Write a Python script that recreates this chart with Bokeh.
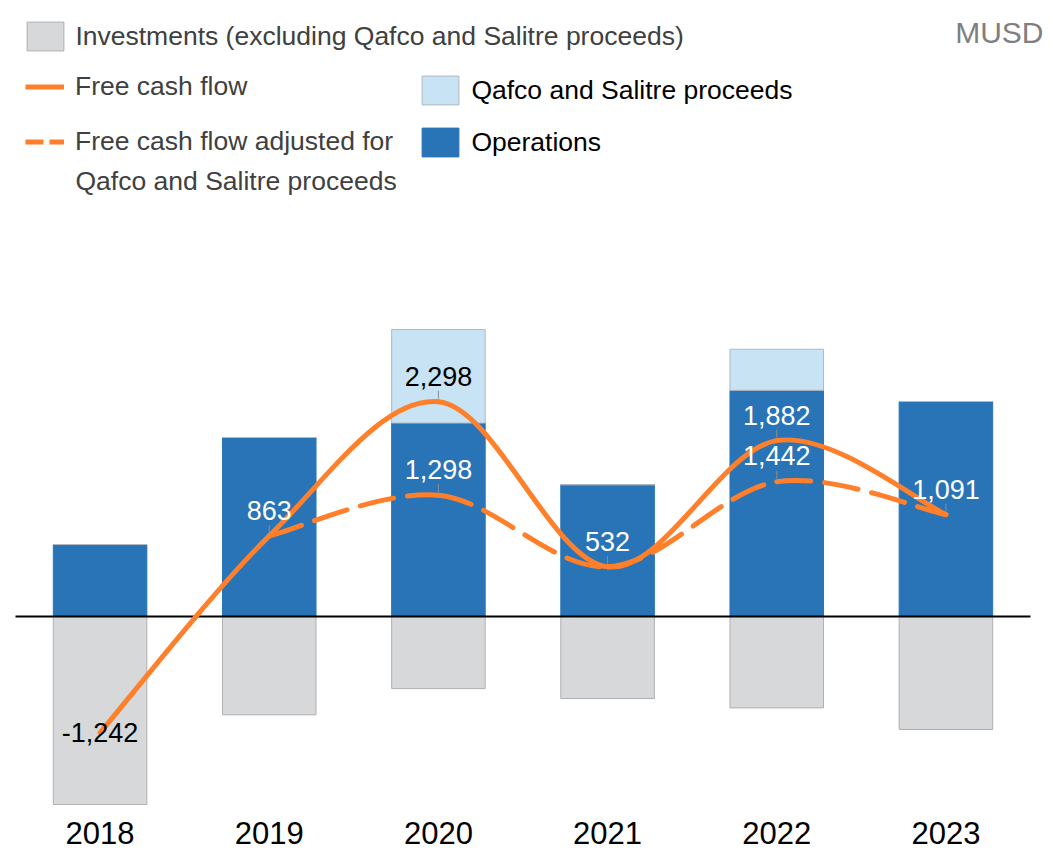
from bokeh.plotting import figure
from bokeh.models import (ColumnDataSource, FactorRange, Range1d, Legend, LegendItem,
                          Label, LabelSet)
from bokeh.core.properties import value
from bokeh.embed import file_html
from bokeh.resources import INLINE

# ---------------- data (MUSD) ----------------
years = ["2018", "2019", "2020", "2021", "2022", "2023"]
operations = [770, 1915, 2070, 1410, 2420, 2300]
proceeds = [0, 0, 1000, 0, 440, 0]
investments = [-2012, -1052, -772, -878, -978, -1209]
free_cash_flow = [-1242, 863, 2298, 532, 1882, 1091]
fcf_adjusted = [None, 863, 1298, 532, 1442, 1091]

# ---------------- style ----------------
FONT = "Liberation Sans"
ORANGE = "#FF7F2A"
DARK_BLUE = "#2874B7"
LIGHT_BLUE = "#C7E3F4"
GREY = "#D7D8DA"
CAT_PX = 169.17            # pixels per category
PAD_PX = 15                # frame padding left/right of the categories
FRAME_T = 10
FRAME_W, FRAME_H = 1045, 800
ZERO_FROM_TOP = 606
MUSD_PER_PX = 10.7
LEG_SIZE = "26.5px"

p = figure(
    x_range=FactorRange(*years, range_padding=PAD_PX / CAT_PX, range_padding_units="absolute"),
    y_range=Range1d(-(FRAME_H - ZERO_FROM_TOP) * MUSD_PER_PX, ZERO_FROM_TOP * MUSD_PER_PX),
    frame_width=FRAME_W, frame_height=FRAME_H,
    min_border_left=0, min_border_right=6, min_border_top=FRAME_T, min_border_bottom=46,
    y_axis_location=None,
    output_backend="svg", toolbar_location=None,
)
p.outline_line_color = None
p.xgrid.grid_line_color = None
p.ygrid.grid_line_color = None
p.background_fill_color = "white"
p.border_fill_color = "white"

ax = p.xaxis[0]
ax.axis_line_color = None
ax.major_tick_line_color = None
ax.minor_tick_line_color = None
ax.major_label_standoff = 5
ax.major_label_text_font = FONT
ax.major_label_text_font_size = "31px"
ax.major_label_text_color = "black"

bars = ColumnDataSource(dict(
    x=years,
    ops=operations,
    pro_bottom=operations,
    pro_top=[o + q for o, q in zip(operations, proceeds)],
    inv=investments,
    zero=[0] * len(years),
))
BW = 0.553
r_inv = p.vbar(x="x", top="zero", bottom="inv", width=BW, source=bars,
               fill_color=GREY, line_color="#B0B0B0", line_width=1)
r_ops = p.vbar(x="x", top="ops", bottom="zero", width=BW, source=bars,
               fill_color=DARK_BLUE, line_color=DARK_BLUE, line_width=1)
r_pro = p.vbar(x="x", top="pro_top", bottom="pro_bottom", width=BW, source=bars,
               fill_color=LIGHT_BLUE, line_color="#B0B8C0", line_width=1)

# zero line across the category span
p.segment(x0=[0], x1=[len(years)], y0=[0], y1=[0], line_color="black", line_width=2)

# ---------------- labels and leader ticks ----------------
lab = dict(x=[], y=[], text=[], color=[], off=[])
ticks = dict(x=[], y0=[], y1=[])
for i, yr in enumerate(years):
    v = free_cash_flow[i]
    lab["x"].append(yr); lab["y"].append(v); lab["text"].append(f"{v:,}")
    lab["color"].append("white" if 0 < v <= operations[i] else "black")
    lab["off"].append(25 if v > 0 else 0)
    if v > 0:
        ticks["x"].append(yr); ticks["y0"].append(v + 3 * MUSD_PER_PX); ticks["y1"].append(v + 11 * MUSD_PER_PX)
    a = fcf_adjusted[i]
    if a is not None and a != v:
        lab["x"].append(yr); lab["y"].append(a); lab["text"].append(f"{a:,}")
        lab["color"].append("white" if 0 < a <= operations[i] else "black")
        lab["off"].append(26)
        ticks["x"].append(yr); ticks["y0"].append(a + 3 * MUSD_PER_PX); ticks["y1"].append(a + 11 * MUSD_PER_PX)

p.segment(x0="x", x1="x", y0="y0", y1="y1", source=ColumnDataSource(ticks),
          line_color="#8C8C8C", line_width=1)


# ---------------- smoothed lines (cubic Bezier through the points) ----------------
def bezier_source(xcats, vals):
    xs = [years.index(c) + 0.5 for c in xcats]
    ys = list(vals)
    n = len(xs)
    d = dict(x0=[], y0=[], x1=[], y1=[], cx0=[], cy0=[], cx1=[], cy1=[])
    for i in range(n - 1):
        xm, ym = (xs[i - 1], ys[i - 1]) if i > 0 else (xs[i], ys[i])
        xp, yp = (xs[i + 2], ys[i + 2]) if i + 2 < n else (xs[i + 1], ys[i + 1])
        d["x0"].append(xs[i]); d["y0"].append(ys[i])
        d["x1"].append(xs[i + 1]); d["y1"].append(ys[i + 1])
        d["cx0"].append(xs[i] + (xs[i + 1] - xm) / 6)
        d["cy0"].append(ys[i] + (ys[i + 1] - ym) / 6)
        d["cx1"].append(xs[i + 1] - (xp - xs[i]) / 6)
        d["cy1"].append(ys[i + 1] - (yp - ys[i]) / 6)
    return ColumnDataSource(d)


adj_years = [y for y, a in zip(years, fcf_adjusted) if a is not None]
adj_vals = [a for a in fcf_adjusted if a is not None]

p.bezier(x0="x0", y0="y0", x1="x1", y1="y1", cx0="cx0", cy0="cy0", cx1="cx1", cy1="cy1",
         source=bezier_source(adj_years, adj_vals),
         line_color=ORANGE, line_width=5, line_dash="34 14", line_cap="round")
p.bezier(x0="x0", y0="y0", x1="x1", y1="y1", cx0="cx0", cy0="cy0", cx1="cx1", cy1="cy1",
         source=bezier_source(years, free_cash_flow),
         line_color=ORANGE, line_width=5, line_cap="round")

p.add_layout(LabelSet(x="x", y="y", text="text", source=ColumnDataSource(lab),
                      y_offset="off", text_align="center", text_baseline="middle",
                      text_font=value(FONT), text_font_size=value("27px"), text_color="color"))

# ---------------- legends ----------------
# one-point lines draw nothing in the plot, only their legend swatches
l_fcf = p.line(x=[years[0]], y=[free_cash_flow[0]], line_color=ORANGE, line_width=5)
l_adj = p.line(x=[adj_years[0]], y=[adj_vals[0]], line_color=ORANGE, line_width=5, line_dash="18 6")

base = dict(padding=0, margin=0, label_text_font=FONT, label_text_font_size=LEG_SIZE,
            border_line_color=None, background_fill_alpha=0)
sq = dict(glyph_width=46, glyph_height=36)
BOTTOM = FRAME_T + FRAME_H

legend_inv = Legend(items=[
    LegendItem(label="Investments (excluding Qafco and Salitre proceeds)", renderers=[r_inv]),
], location=(22.4, BOTTOM - 54.4), label_standoff=7,
    label_text_color="#404040", **sq, **base)
legend_lines = Legend(items=[
    LegendItem(label="Free cash flow", renderers=[l_fcf]),
    LegendItem(label="Free cash flow adjusted for", renderers=[l_adj]),
], location=(25, BOTTOM - 156.5), glyph_width=39, glyph_height=29,
    spacing=24, label_standoff=11, label_text_color="#404040", **base)
legend_bars = Legend(items=[
    LegendItem(label="Qafco and Salitre proceeds", renderers=[r_pro]),
    LegendItem(label="Operations", renderers=[r_ops]),
], location=(417.4, BOTTOM - 160), spacing=16, label_standoff=8,
    label_text_color="black", **sq, **base)
for lg in (legend_inv, legend_lines, legend_bars):
    p.add_layout(lg)

# continuation line of the dashed-line legend label
p.add_layout(Label(x=75, y=BOTTOM - 180, x_units="screen", y_units="screen",
                   text="Qafco and Salitre proceeds", text_align="left", text_baseline="middle",
                   text_font=FONT, text_font_size=LEG_SIZE, text_color="#404040"))

p.add_layout(Label(x=1043, y=BOTTOM - 32, x_units="screen", y_units="screen",
                   text="MUSD", text_align="right", text_baseline="middle", text_font=FONT,
                   text_font_size="30px", text_color="#7F7F7F"))

open("out.html", "w").write(file_html(p, INLINE))
